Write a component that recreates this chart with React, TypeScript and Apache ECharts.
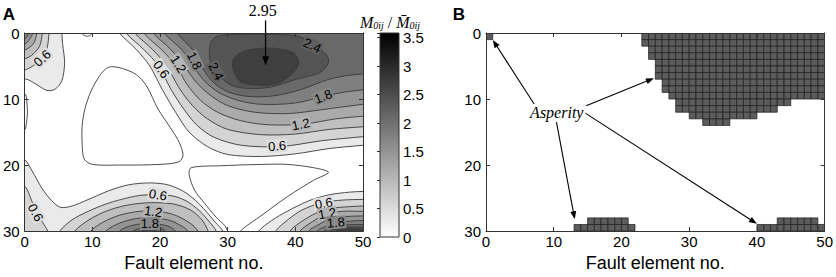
import React, { useEffect, useRef } from "react";
import * as echarts from "echarts";

// ---------------- axis ticks ----------------
const faultTicks = [0, 10, 20, 30, 40, 50];
const depthTicks = [0, 10, 20, 30];
const colorbarTicks = [0, 0.5, 1, 1.5, 2, 2.5, 3, 3.5];
const colorMax = 3.58;
const peakLabel = "2.95";

type Region = [number, number[][]];

// ---------------- panel A: contour regions (value >= level), [fault element, depth] ----------------
const topLeftHill: Region[] = [
  [0.3, [[-2, -2], [5.5, -2], [5.5, 0], [5.6, 1.6], [5.9, 4.5], [5.5, 7.2], [4.5, 8.5], [3.3, 8.7], [1.6, 7.7], [0.3, 7.0], [-2, 6.8]]],
  [0.6, [[-2, -2], [3.7, -2], [3.6, 0], [3.3, 2.3], [2.5, 3.9], [1.2, 5.0], [0, 5.6], [-2, 5.8]]],
  [0.9, [[-2, -2], [2.7, -2], [2.6, 0], [2.2, 2.0], [1.0, 3.4], [0, 3.9], [-2, 4.1]]],
  [1.2, [[-2, -2], [1.9, -2], [1.8, 0], [1.3, 1.6], [0, 2.6], [-2, 2.8]]],
  [1.5, [[-2, -2], [1.25, -2], [1.2, 0], [0.6, 1.1], [0, 1.7], [-2, 1.9]]],
  [1.8, [[-2, -2], [0.6, -2], [0.6, 0], [0, 0.9], [-2, 1.0]]],
];

const topRightHill: Region[] = [
  [0.3, [[13.0, -2], [14.0, 0], [16.5, 2.5], [18.5, 5], [20.3, 8.5], [22.3, 12], [24.3, 15], [27, 17.2], [30, 18.4], [35, 18.7], [40, 18.3], [45, 17.5], [50, 17.0], [52, 16.8], [53, -2]]],
  [0.6, [[14.2, -2], [15.0, 0], [17.6, 2.5], [19.8, 5], [21.6, 8.5], [23.5, 11.5], [25.5, 14], [28, 15.8], [32, 17], [37.8, 17.2], [44, 16.3], [50, 15.7], [52, 15.5], [53, -2]]],
  [0.9, [[15.5, -2], [16.3, 0], [18.9, 2.5], [21, 5], [22.8, 8.3], [24.8, 11], [27, 13], [30, 14.6], [35, 15.4], [40, 15.3], [45, 14.6], [50, 14.2], [52, 14.1], [53, -2]]],
  [1.2, [[16.8, -2], [17.6, 0], [20.2, 2.5], [22.4, 5], [24, 7.8], [26, 10.2], [28.5, 12], [32, 13.3], [36, 13.9], [41.2, 13.8], [46, 13.0], [50, 12.6], [52, 12.5], [53, -2]]],
  [1.5, [[18.2, -2], [19, 0], [21.6, 2.5], [23.6, 5], [25.3, 7.4], [27.4, 9.4], [30, 11], [34, 12], [39, 12.2], [44, 11.6], [50, 10.8], [52, 10.6], [53, -2]]],
  [1.8, [[19.8, -2], [20.6, 0], [23.2, 2.5], [24.9, 5], [26.6, 7.3], [28.7, 9], [31.5, 10.2], [35, 10.8], [40, 10.6], [44.1, 9.6], [47, 9.0], [50, 8.6], [52, 8.4], [53, -2]]],
  [2.1, [[21.8, -2], [22.5, 0], [24.8, 2.5], [26.1, 5], [27.8, 7.4], [30, 8.9], [33, 9.6], [37, 9.5], [41, 8.5], [45, 7.0], [48, 6.4], [50, 6.2], [52, 6.1], [53, -2]]],
  [2.4, [[27.3, 3], [27.6, 1.2], [28.5, 0.5], [30.5, 0.25], [36, 0.2], [40.5, 0.5], [42.4, 1.6], [44.6, 3.3], [44.9, 4.5], [43.6, 6.0], [40.2, 7.0], [36.3, 8.2], [32.9, 8.4], [30.5, 7.9], [28.7, 6.4], [27.5, 4.5]]],
  [2.7, [[30.7, 4.5], [31.4, 3.3], [33.4, 2.5], [36.8, 2.3], [39.7, 3.0], [40.5, 4.5], [39.7, 6.0], [37.3, 7.7], [34.4, 7.9], [31.9, 7.4], [31.0, 6.0]]],
];

const bottomMiddleHill: Region[] = [
  [0.3, [[-2, 19], [0, 19.2], [1.1, 20.9], [2.6, 23.6], [4.0, 25.4], [5.3, 26.4], [7, 26.2], [9.2, 25.3], [12.4, 23.9], [15.3, 23.0], [18.5, 22.7], [21.2, 23.0], [23.5, 24.0], [25.3, 25.4], [26.8, 27.0], [28.2, 28.7], [29.3, 30], [29.8, 32], [-2, 32]]],
  [0.6, [[-2, 22.8], [0, 23.2], [1.0, 25.3], [1.6, 26.8], [2.6, 28.6], [3.4, 30], [3.8, 32], [-2, 32]]],
  [0.6, [[4.5, 32], [5.2, 30], [7, 28.3], [9.4, 27.0], [12, 25.9], [14.3, 25.2], [17, 24.6], [19.7, 24.5], [22, 24.7], [24, 25.5], [25.8, 26.9], [27.3, 28.6], [28.3, 30], [28.6, 32]]],
  [0.9, [[6.5, 32], [7.4, 30], [9.5, 28.3], [12, 27], [15, 26.1], [18.5, 25.7], [22, 25.9], [24.5, 26.8], [26.2, 28.3], [27.1, 30], [27.5, 32]]],
  [1.2, [[9, 32], [9.8, 30], [11.5, 28.7], [14, 27.6], [17, 27.0], [19.5, 27.0], [22, 27.5], [24.3, 28.7], [25.6, 30], [26, 32]]],
  [1.5, [[11.2, 32], [12, 30], [14, 28.8], [16.5, 28.1], [19, 28.0], [21.5, 28.4], [23.3, 29.3], [24.1, 30], [24.5, 32]]],
  [1.8, [[13.2, 32], [14, 30], [16, 29.1], [18.5, 28.85], [21, 29.2], [22.3, 30], [22.8, 32]]],
  [2.1, [[15, 32], [16, 30], [18, 29.5], [20, 29.6], [20.8, 30], [21.3, 32]]],
  [2.4, [[16.5, 32], [17.3, 30], [18.6, 29.8], [19.6, 30], [20.3, 32]]],
];

const bottomRightHill: Region[] = [
  [0.3, [[34, 32], [34.6, 30], [36.5, 28.4], [38.8, 27.0], [42, 25.4], [45, 24.5], [48, 24.1], [50, 24.0], [52, 24], [52, 32]]],
  [0.6, [[36.5, 32], [37.1, 30], [39, 28.2], [41, 26.8], [43.9, 25.7], [47, 25.3], [50, 25.2], [52, 25.2], [52, 32]]],
  [0.9, [[38.8, 32], [39.2, 30], [41, 28.5], [43, 27.3], [45, 26.6], [48, 26.3], [50, 26.2], [52, 26.2], [52, 32]]],
  [1.2, [[40.3, 32], [40.7, 30], [42.5, 28.6], [44.5, 27.4], [47, 27.0], [50, 27.0], [52, 27], [52, 32]]],
  [1.5, [[41.7, 32], [42, 30], [43.5, 29], [45.2, 28.1], [47.5, 27.8], [50, 27.7], [52, 27.7], [52, 32]]],
  [1.8, [[43, 32], [43.2, 30], [44.5, 29.3], [46, 28.8], [48, 28.5], [50, 28.4], [52, 28.4], [52, 32]]],
  [2.1, [[44, 32], [44.2, 30], [45.5, 29.4], [47, 29.1], [49, 29.0], [50, 29.0], [52, 29], [52, 32]]],
  [2.4, [[44.9, 32], [45.1, 30], [46.2, 29.6], [47.5, 29.4], [50, 29.4], [52, 29.4], [52, 32]]],
  [2.7, [[45.8, 32], [46, 30], [47, 29.72], [48.5, 29.66], [50, 29.7], [52, 29.7], [52, 32]]],
];

// closed low outlines (no fill)
const lowOutlines: Region[] = [
  [0, [[12.8, 5.1], [14.5, 5.4], [16.5, 6.3], [18, 8], [19.7, 11.5], [21.5, 14.3], [22.8, 16.5], [23.4, 18.5], [22.8, 19.5], [20, 19.9], [14, 20.0], [10, 19.9], [8.8, 19.1], [8.5, 17], [8.5, 14], [8.9, 11.5], [9.8, 8.8], [11, 6.6], [11.9, 5.5]]],
  [0, [[24.6, 20.4], [29, 20.1], [35, 19.9], [38.8, 19.9], [42.7, 20.4], [44.9, 21.1], [42.7, 22.3], [38.8, 24.8], [34.9, 27.7], [32.4, 29.5], [31.2, 30.6], [30.4, 30.6], [29.6, 29.2], [28.3, 27.9], [26.6, 25.8], [25.1, 23.8], [24.3, 21.4]]],
  [0, [[8.3, -1], [8.5, 0.1], [9.0, 0.45], [9.5, 0.45], [9.9, 0.1], [10.1, -1]]],
  [0, [[-1, 8.9], [0.1, 9.3], [0.35, 10.8], [0.4, 12.2], [0.25, 13.7], [0, 14.7], [-1, 15.1]]],
];

// contour labels: text, x, y, rotation (deg), level
const contourLabels: [string, number, number, number, number][] = [
  ["0.6", 2.6, 3.8, 42, 0.6],
  ["0.6", 20.2, 5.5, -55, 0.6],
  ["1.2", 22.7, 4.7, -58, 1.2],
  ["1.8", 25.1, 4.2, -65, 1.8],
  ["2.4", 28.3, 5.8, -62, 2.4],
  ["2.4", 42.5, 1.9, -25, 2.4],
  ["1.8", 44.1, 9.6, 22, 1.8],
  ["1.2", 40.8, 13.8, 12, 1.2],
  ["0.6", 37.3, 17.1, 5, 0.6],
  ["0.6", 1.6, 27.2, -62, 0.6],
  ["0.6", 19.7, 24.5, -10, 0.6],
  ["1.2", 19.0, 27.05, -8, 1.2],
  ["1.8", 18.5, 28.85, 0, 1.8],
  ["0.6", 44.2, 25.8, 10, 0.6],
  ["1.2", 44.7, 27.35, 10, 1.2],
  ["1.8", 46.0, 28.7, 5, 1.8],
];

// peak arrow in panel A: [x1, y1, x2, y2]
const peakArrow = [35.6, -1.9, 35.6, 4.9];
const peakLabelPos = [35.2, -3.35];

// ---------------- panel B: asperity rows [row, fromElement, toElement) ----------------
const asperityRows: [number, number, number][] = [
  [0, 0, 1],
  [0, 23, 50], [1, 23, 50], [2, 24, 50], [3, 24, 50], [4, 25, 50], [5, 25, 50], [6, 25, 50],
  [7, 26, 50], [8, 26, 50], [9, 27, 50], [10, 28, 45], [11, 28, 43], [12, 30, 40], [13, 32, 36],
  [28, 15, 21], [29, 13, 22],
  [28, 43, 49], [29, 40, 50],
];
const asperityArrows = [
  [7.2, 10.9, 1.0, 1.05],
  [14.8, 11.0, 24.8, 6.85],
  [10.4, 13.5, 13.1, 28.2],
  [14.6, 12.1, 40.0, 28.9],
];
const asperityLabelPos = [10.45, 12.1];

// ---------------- helpers ----------------
const grayFor = (v: number) => {
  const g = Math.round(255 * (1 - Math.max(0, v) / colorMax));
  return `rgb(${g},${g},${g})`;
};
const lineColor = "#3a3a3a";
const sans = "'Liberation Sans', Arial, sans-serif";
const serif = "'Liberation Serif', 'Times New Roman', serif";

const contourRegions: Region[] = [...topLeftHill, ...topRightHill, ...bottomMiddleHill, ...bottomRightHill]
  .slice()
  .sort((a, b) => a[0] - b[0])
  .concat(lowOutlines);

const asperityCells: number[][] = [];
asperityRows.forEach(([row, from, to]) => {
  for (let x = from; x < to; x++) asperityCells.push([x, row]);
});

function arrowShape(api: any, a: number[], headLen = 9, headW = 3.2, width = 1.1) {
  const p0 = api.coord([a[0], a[1]]);
  const p1 = api.coord([a[2], a[3]]);
  const dx = p1[0] - p0[0];
  const dy = p1[1] - p0[1];
  const len = Math.hypot(dx, dy) || 1;
  const ux = dx / len;
  const uy = dy / len;
  const bx = p1[0] - ux * headLen;
  const by = p1[1] - uy * headLen;
  return {
    type: "group",
    children: [
      { type: "line", shape: { x1: p0[0], y1: p0[1], x2: bx + ux, y2: by + uy }, style: { stroke: "#000", lineWidth: width } },
      {
        type: "polygon",
        shape: { points: [[p1[0], p1[1]], [bx - uy * headW, by + ux * headW], [bx + uy * headW, by - ux * headW]] },
        style: { fill: "#000" },
      },
    ],
  };
}

const tickFont = { color: "#000", fontSize: 15, fontFamily: sans };
const frameLine = { show: true, onZero: false, lineStyle: { color: "#333", width: 1 } };
const inTick = { show: true, inside: true, length: 4, lineStyle: { color: "#333", width: 1 } };

function faultAxis(gridIndex: number, position: "top" | "bottom") {
  const bottom = position === "bottom";
  return {
    type: "value", gridIndex, position, min: faultTicks[0], max: faultTicks[faultTicks.length - 1],
    interval: faultTicks[1] - faultTicks[0], z: 10,
    axisLine: frameLine, axisTick: inTick, splitLine: { show: false },
    axisLabel: { show: bottom, margin: 3, ...tickFont },
    name: bottom ? "Fault element no." : "", nameLocation: "middle", nameGap: 20,
    nameTextStyle: { color: "#000", fontSize: 18, fontFamily: sans },
  };
}
function depthAxis(gridIndex: number, position: "left" | "right") {
  return {
    type: "value", gridIndex, position, inverse: true, min: depthTicks[0], max: depthTicks[depthTicks.length - 1],
    interval: depthTicks[1] - depthTicks[0], z: 10,
    axisLine: frameLine, axisTick: inTick, splitLine: { show: false },
    axisLabel: { show: position === "left", margin: 5, ...tickFont },
  };
}

function buildOption(): any {
  return {
    animation: false,
    backgroundColor: "#fff",
    grid: [
      { left: 22, top: 33, width: 341, height: 204 },
      { left: 380, top: 33, width: 19, height: 204 },
      { left: 486, top: 33, width: 341, height: 204 },
    ],
    xAxis: [
      faultAxis(0, "bottom"),
      faultAxis(0, "top"),
      { type: "value", gridIndex: 1, min: 0, max: 1, show: false },
      faultAxis(2, "bottom"),
      faultAxis(2, "top"),
    ],
    yAxis: [
      depthAxis(0, "left"),
      depthAxis(0, "right"),
      {
        type: "value", gridIndex: 1, position: "right", min: 0, max: colorMax, interval: colorbarTicks[1] - colorbarTicks[0], z: 10,
        axisLine: { show: false }, splitLine: { show: false },
        axisTick: { show: true, inside: true, length: 3, lineStyle: { color: "#333" } },
        axisLabel: {
          margin: 4, ...tickFont,
          formatter: (v: number) => (colorbarTicks.some((t) => Math.abs(t - v) < 1e-6) ? String(v) : ""),
        },
      },
      depthAxis(2, "left"),
      depthAxis(2, "right"),
    ],
    series: [
      {
        type: "custom", name: "contours", xAxisIndex: 0, yAxisIndex: 0, clip: true, silent: true,
        data: contourRegions.map((r) => [r[1][0][0], r[1][0][1]]),
        renderItem: (params: any, api: any) => {
          const r = contourRegions[params.dataIndex];
          const points = r[1].map((p) => api.coord(p));
          return {
            type: "polygon",
            shape: { points, smooth: 0.3 },
            style: { fill: r[0] > 0 ? grayFor(r[0]) : "none", stroke: lineColor, lineWidth: 0.9 },
          };
        },
      },
      {
        type: "custom", name: "contour labels", xAxisIndex: 0, yAxisIndex: 0, clip: false, silent: true, z: 3,
        data: contourLabels.map((l) => [l[1], l[2]]),
        renderItem: (params: any, api: any) => {
          const l = contourLabels[params.dataIndex];
          const p = api.coord([l[1], l[2]]);
          return {
            type: "text", x: p[0], y: p[1], rotation: (l[3] * Math.PI) / 180,
            style: {
              text: l[0], fill: "#000", font: `13px ${sans}`,
              align: "center", verticalAlign: "middle", backgroundColor: grayFor(l[4] - 0.15), padding: [0, 1],
            },
          };
        },
      },
      {
        type: "custom", name: "peak", xAxisIndex: 0, yAxisIndex: 0, clip: false, silent: true, z: 4,
        data: [[peakArrow[2], peakArrow[3]]],
        renderItem: (params: any, api: any) => {
          const lp = api.coord(peakLabelPos);
          return {
            type: "group",
            children: [
              arrowShape(api, peakArrow, 9, 3.5, 1.3),
              { type: "text", x: lp[0], y: lp[1], style: { text: peakLabel, fill: "#000", font: `16px ${serif}`, align: "center", verticalAlign: "middle" } },
            ],
          };
        },
      },
      {
        type: "custom", name: "colorbar", xAxisIndex: 2, yAxisIndex: 2, silent: true,
        data: [[0.5, colorMax / 2]],
        renderItem: (params: any, api: any) => {
          const a = api.coord([0, colorMax]);
          const b = api.coord([1, 0]);
          return {
            type: "rect",
            shape: { x: a[0], y: a[1], width: b[0] - a[0], height: b[1] - a[1] },
            style: {
              fill: new echarts.graphic.LinearGradient(0, 0, 0, 1, [
                { offset: 0, color: "#000" },
                { offset: 1, color: "#fff" },
              ]),
              stroke: "#333", lineWidth: 1,
            },
          };
        },
      },
      {
        type: "custom", name: "asperity", xAxisIndex: 3, yAxisIndex: 3, clip: true, silent: true,
        data: asperityCells,
        renderItem: (params: any, api: any) => {
          const x = api.value(0);
          const y = api.value(1);
          const p0 = api.coord([x, y]);
          const p1 = api.coord([x + 1, y + 1]);
          return {
            type: "rect",
            shape: { x: Math.min(p0[0], p1[0]), y: Math.min(p0[1], p1[1]), width: Math.abs(p1[0] - p0[0]), height: Math.abs(p1[1] - p0[1]) },
            style: { fill: "#5c5c5c", stroke: "#1c1c1c", lineWidth: 0.7 },
          };
        },
      },
      {
        type: "custom", name: "asperity arrows", xAxisIndex: 3, yAxisIndex: 3, clip: false, silent: true, z: 4,
        data: [asperityLabelPos],
        renderItem: (params: any, api: any) => {
          const lp = api.coord(asperityLabelPos);
          return {
            type: "group",
            children: [
              ...asperityArrows.map((a) => arrowShape(api, a, 8, 3, 1.1)),
              {
                type: "text", x: lp[0], y: lp[1],
                style: { text: "Asperity", fill: "#000", font: `italic 16px ${serif}`, align: "center", verticalAlign: "middle", backgroundColor: "#fff", padding: [1, 2] },
              },
            ],
          };
        },
      },
    ],
    graphic: [
      { type: "text", x: 9, y: 14.5, style: { text: "A", fill: "#000", font: `bold 17px ${sans}`, align: "center", verticalAlign: "middle" } },
      { type: "text", x: 459, y: 14.5, style: { text: "B", fill: "#000", font: `bold 17px ${sans}`, align: "center", verticalAlign: "middle" } },
      {
        type: "text", x: 390, y: 21,
        style: {
          text: "{m|M}{s|0ij}{g| / }{m|M\u0304}{s|0ij}",
          align: "center", verticalAlign: "middle", fill: "#000",
          rich: {
            m: { fontFamily: serif, fontStyle: "italic", fontSize: 16, lineHeight: 18, verticalAlign: "bottom" },
            g: { fontFamily: serif, fontSize: 16, lineHeight: 18, verticalAlign: "bottom" },
            s: { fontFamily: serif, fontStyle: "italic", fontSize: 10, lineHeight: 12, verticalAlign: "bottom" },
          },
        },
      },
    ],
  };
}

export default function App() {
  const ref = useRef<HTMLDivElement>(null);
  useEffect(() => {
    if (!ref.current) return;
    const chart = echarts.init(ref.current, null, { renderer: "svg" });
    chart.setOption(buildOption());
    return () => chart.dispose();
  }, []);
  return <div ref={ref} style={{ position: "fixed", left: 0, top: 0, width: 836, height: 277 }} />;
}
